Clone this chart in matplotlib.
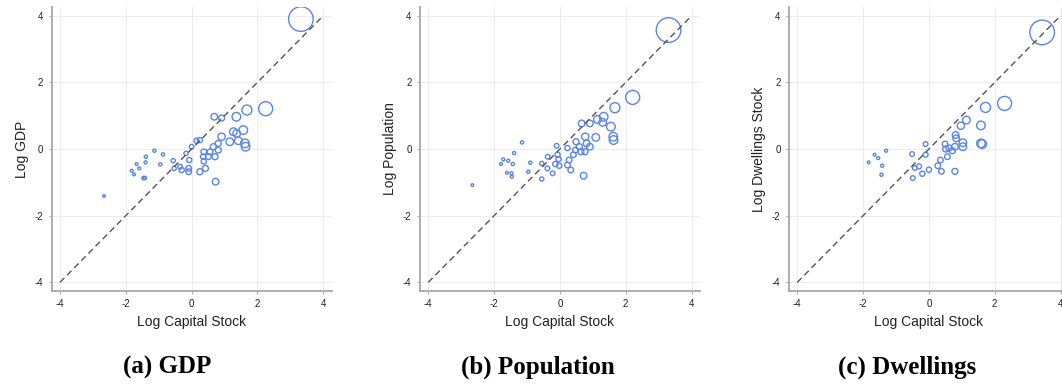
import matplotlib
matplotlib.use("Agg")
import matplotlib.pyplot as plt
import numpy as np

# ---- Data ----
# Panel (a): GDP
gdp_x = [3.32, 2.25, 1.68, 1.36, 0.69, 0.91, 1.57, 1.27, 1.37, 0.91, 1.16, 1.42, 1.62, 1.64,
         0.81, 0.66, 0.56, 0.37, 0.35, 0.51, 0.71, 0.81, 0.25, 0.15, 0.00, 0.37, 0.42, 0.25,
         0.73, -0.07, -0.09, -0.09, -0.30, -0.35, -0.56, -0.53, -0.17, -1.13, -0.87, -0.95,
         -1.39, -1.40, -1.46, -1.42, -1.67, -1.59, -1.82, -1.75, -2.66]
gdp_y = [3.90, 1.21, 1.17, 0.97, 0.97, 0.93, 0.57, 0.52, 0.47, 0.37, 0.22, 0.25, 0.17, 0.07,
         0.17, 0.07, -0.08, -0.08, -0.23, -0.23, -0.23, -0.03, 0.27, 0.25, 0.07, -0.37, -0.58,
         -0.68, -0.98, -0.33, -0.58, -0.68, -0.63, -0.53, -0.35, -0.58, -0.13, -0.05, -0.16,
         -0.46, -0.23, -0.40, -0.87, -0.87, -0.45, -0.58, -0.65, -0.76, -1.41]
gdp_w = [12, 6.7, 4.7, 4, 3, 2.7, 4, 3.5, 3.5, 3.3, 3.5, 3.5, 4, 4,
         2.7, 2.7, 2.5, 2.5, 2.3, 2.5, 2.7, 2.7, 2.3, 2.3, 2, 2.3, 2.7, 2.7,
         3, 2.3, 2.5, 2.5, 2.3, 2, 1.8, 1.8, 1.8, 1.3, 1.3, 1.3,
         1.3, 1.2, 1.4, 1.4, 1.1, 1.1, 1.1, 1.1, 1.0]

# Panel (b): Population
pop_x = [3.30, 2.21, 1.67, 1.33, 1.14, 1.30, 1.55, 1.62, 1.63, 1.09, 0.66, 0.91, 0.77, 0.81,
         0.91, 0.49, 0.59, 0.47, 0.64, 0.76, 0.41, 0.28, 0.23, 0.33, 0.72, 0.23, -0.10, -0.07,
         -0.04, -0.14, -0.02, -0.37, -0.38, -0.22, -0.55, -0.55, -1.15, -1.39, -1.43, -1.57,
         -1.72, -1.79, -1.61, -1.47, -1.46, -0.90, -0.96, -2.66]
pop_y = [3.57, 1.55, 1.24, 0.97, 0.89, 0.80, 0.67, 0.37, 0.27, 0.35, 0.77, 0.77, 0.37, 0.17,
         0.07, 0.22, 0.07, -0.03, -0.08, -0.08, -0.17, -0.33, -0.48, -0.63, -0.80, 0.03, 0.10,
         -0.17, -0.30, -0.45, -0.50, -0.23, -0.58, -0.73, -0.43, -0.90, 0.20, -0.12, -0.45,
         -0.35, -0.31, -0.45, -0.71, -0.73, -0.83, -0.41, -0.68, -1.08]
pop_w = [12, 6.7, 4.7, 4, 3.5, 3.5, 4, 4, 4, 3.5, 3, 3, 3.3, 3,
         3, 2.7, 2.7, 2.5, 2.7, 2.7, 2.5, 2.5, 2.5, 2.5, 3, 2.3, 2, 2.3,
         2.3, 2.3, 2.3, 2, 2, 2, 1.8, 1.8, 1.3, 1.3, 1.3, 1.2,
         1.2, 1.1, 1.1, 1.2, 1.2, 1.3, 1.3, 1.0]

# Panel (c): Dwellings
dwl_x = [3.44, 2.30, 1.72, 1.58, 1.58, 1.62, 1.14, 0.97, 0.81, 0.83, 1.03, 1.03, 0.79, 0.61,
         0.51, 0.49, 0.71, 0.56, 0.35, 0.27, 0.38, 0.79, 0.00, -0.20, -0.10, -0.30, -0.49,
         -0.51, -0.10, -0.43, -1.42, -1.44, -1.30, -1.54, -1.65, -1.83]
dwl_y = [3.50, 1.37, 1.25, 0.71, 0.17, 0.15, 0.87, 0.70, 0.42, 0.32, 0.19, 0.07, 0.07, 0.03,
         0.00, 0.15, -0.05, -0.23, -0.33, -0.50, -0.67, -0.67, -0.62, -0.74, -0.17, -0.52,
         -0.87, -0.15, 0.15, -0.57, -0.50, -0.77, -0.05, -0.27, -0.17, -0.40]
dwl_w = [12, 6.7, 4.7, 4, 4, 4, 3.5, 3.3, 3, 3, 3.5, 3.5, 3, 2.7,
         2.7, 2.5, 2.7, 2.5, 2.5, 2.5, 2.5, 2.7, 2.3, 2.3, 2.2, 2.2, 2,
         2, 2, 2, 1.3, 1.3, 1.2, 1.2, 1.1, 1.1]

panels = [
    ("Log GDP", "(a) GDP", gdp_x, gdp_y, gdp_w),
    ("Log Population", "(b) Population", pop_x, pop_y, pop_w),
    ("Log Dwellings Stock", "(c) Dwellings", dwl_x, dwl_y, dwl_w),
]
xlabel = "Log Capital Stock"
ticks = [-4, -2, 0, 2, 4]

plt.rcParams["font.family"] = ["Liberation Sans", "DejaVu Sans"]
plt.rcParams["axes.unicode_minus"] = False

W, H = 1062, 385
fig = plt.figure(figsize=(W / 100, H / 100), dpi=100)
fig.patch.set_facecolor("white")

ax_left_px = [51.7, 420.0, 789.0]
caption_x_px = [167, 538, 907]
ax_w_px, ax_top_px, ax_bot_px = 279.8, 7.4, 290.7

for i, (ylab, cap, xs, ys, ws) in enumerate(panels):
    ax = fig.add_axes([ax_left_px[i] / W, (H - ax_bot_px) / H,
                       ax_w_px / W, (ax_bot_px - ax_top_px) / H])
    ax.set_xlim(-4.25, 4.25)
    ax.set_ylim(-4.25, 4.25)
    ax.set_xticks(ticks)
    ax.set_yticks(ticks)
    ax.grid(True, color="#ececec", lw=0.7)
    ax.set_axisbelow(True)
    for s in ["top", "right"]:
        ax.spines[s].set_visible(False)
    for s in ["left", "bottom"]:
        ax.spines[s].set_color("#a8a8a8")
        ax.spines[s].set_linewidth(1.3)
    ax.tick_params(axis="both", direction="out", length=2.5, width=0.8,
                   color="#a8a8a8", labelsize=7, labelcolor="#222222", pad=3.5)
    ax.plot([-4, 4], [-4, 4], ls=(0, (4.5, 2.8)), color="#555555", lw=1.0, zorder=3)
    r = np.array(ws)
    sizes = (1.44 * (r + 0.3)) ** 2
    ax.scatter(xs, ys, s=sizes, facecolors="none", edgecolors="#5a85e6",
               linewidths=1.0, zorder=2)
    ax.set_xlabel(xlabel, fontsize=10, labelpad=4, color="#222222")
    ax.set_ylabel(ylab, fontsize=10, labelpad=4, color="#222222")
    fig.text(caption_x_px[i] / W, 1 - 367 / H, cap, ha="center", va="center",
             fontsize=18, fontweight="bold", family=["Liberation Serif", "DejaVu Serif"])

fig.savefig("out.png", dpi=100, facecolor="white")
